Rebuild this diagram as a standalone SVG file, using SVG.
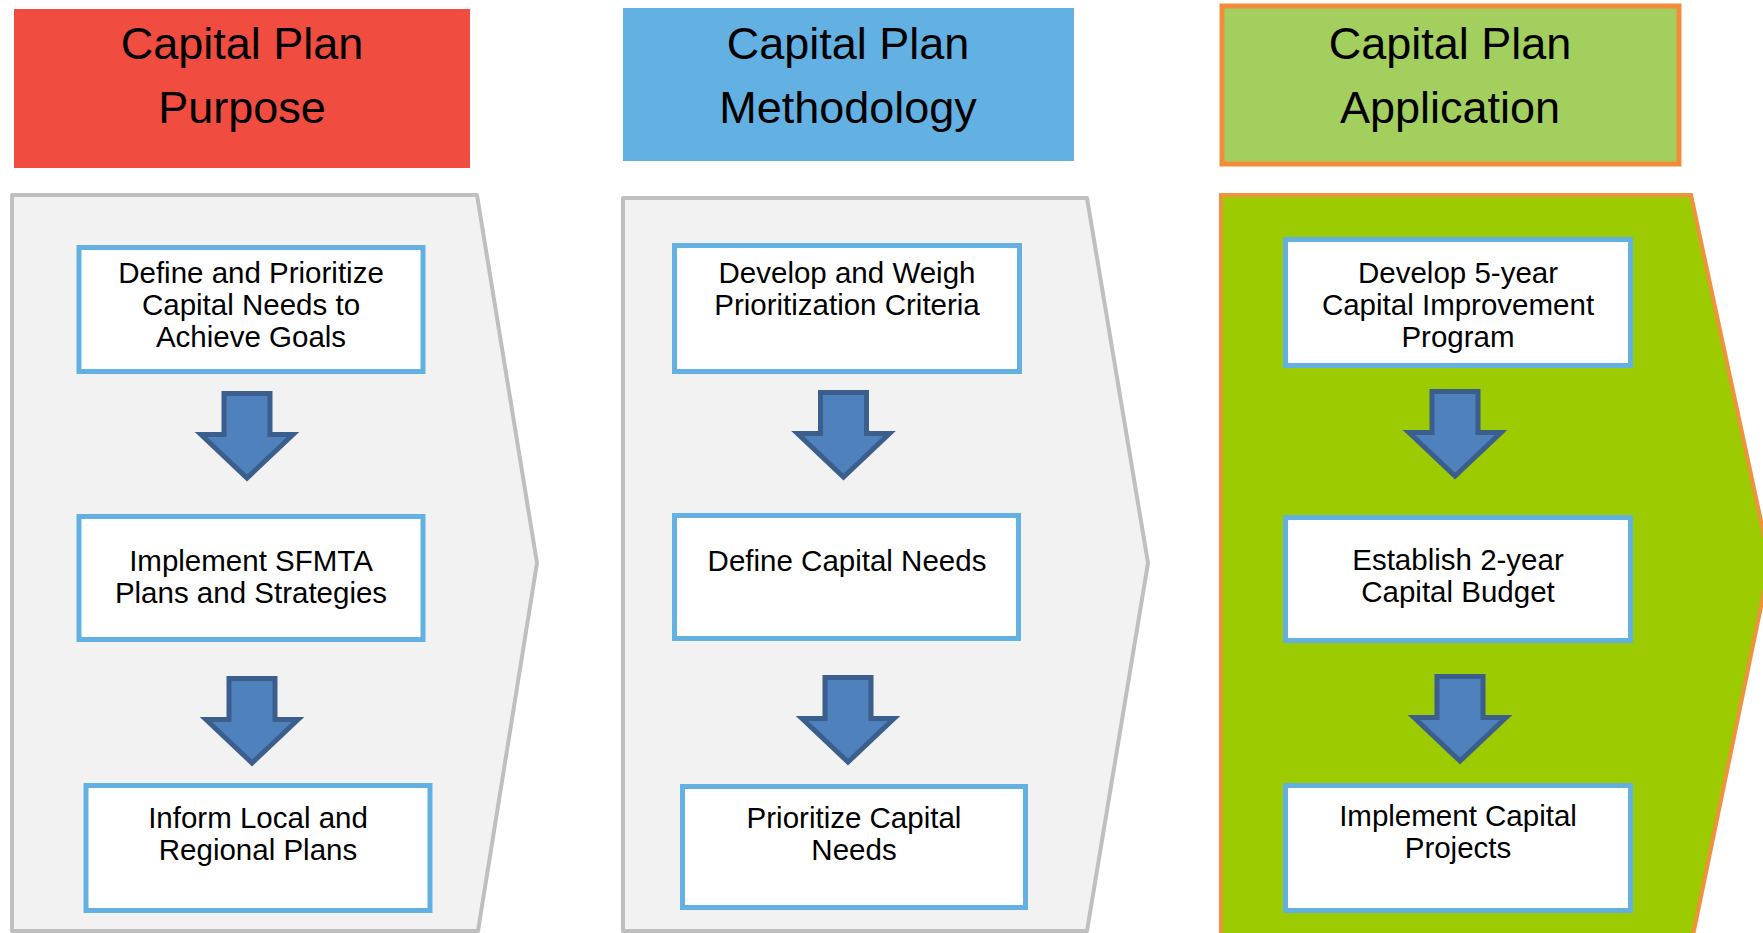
<svg xmlns="http://www.w3.org/2000/svg" xmlns:xlink="http://www.w3.org/1999/xlink" width="1763" height="933" viewBox="0 0 1763 933">
<style>
.hdr{font-family:"Liberation Sans",Arial,sans-serif;font-size:45px;fill:#000;text-anchor:middle}
.txt{font-family:"Liberation Sans",Arial,sans-serif;font-size:29.5px;fill:#000;text-anchor:middle}
.box{fill:#fff;stroke:#63B1E3;stroke-width:5}
.panel{fill:#F2F2F2;stroke:#BFBFBF;stroke-width:4;stroke-linejoin:round}
.arr{fill:#4F81BD;stroke:#3B5E8D;stroke-width:5;stroke-linejoin:miter}
</style>
<defs>
<path id="arrow" d="M-23,2.5 H23 V43.5 H46 L0,87 L-46,43.5 H-23 Z"/>
</defs>
<rect width="1763" height="933" fill="#fff"/>

<g id="panel-purpose-bg"><polygon class="panel" points="12,195 477,195 537,563 478,931 12,931"/></g>
<g id="panel-methodology-bg"><polygon class="panel" points="623,198 1087,198 1148,563 1087,931 623,931"/></g>
<g id="panel-application-bg"><polygon points="1221,195 1691,195 1770,563 1691,945 1221,945" fill="#9BCB00" stroke="#F0913C" stroke-width="4"/></g>

<g id="header-purpose">
<rect x="14" y="9" width="456" height="159" fill="#F04C40"/>
<text class="hdr" x="242" y="59">Capital Plan</text>
<text class="hdr" x="242" y="123">Purpose</text>
</g>
<g id="header-methodology">
<rect x="623" y="8" width="451" height="153" fill="#63B1E3"/>
<text class="hdr" x="848" y="59">Capital Plan</text>
<text class="hdr" x="848" y="123">Methodology</text>
</g>
<g id="header-application">
<rect x="1222" y="6" width="457" height="158" fill="#A3CF5E" stroke="#F38B3A" stroke-width="5"/>
<text class="hdr" x="1450" y="59">Capital Plan</text>
<text class="hdr" x="1450" y="123">Application</text>
</g>

<g id="p1-box1"><rect class="box" x="79" y="247.5" width="344" height="124"/>
<text class="txt" x="251" y="283">Define and Prioritize</text>
<text class="txt" x="251" y="315">Capital Needs to</text>
<text class="txt" x="251" y="347">Achieve Goals</text></g>
<g id="p1-box2"><rect class="box" x="79" y="516.5" width="344" height="123"/>
<text class="txt" x="251" y="571">Implement SFMTA</text>
<text class="txt" x="251" y="603">Plans and Strategies</text></g>
<g id="p1-box3"><rect class="box" x="86" y="785.5" width="344" height="125"/>
<text class="txt" x="258" y="828">Inform Local and</text>
<text class="txt" x="258" y="860">Regional Plans</text></g>

<g id="p2-box1"><rect class="box" x="674.5" y="245.5" width="345" height="126"/>
<text class="txt" x="847" y="283">Develop and Weigh</text>
<text class="txt" x="847" y="315">Prioritization Criteria</text></g>
<g id="p2-box2"><rect class="box" x="674.5" y="515.5" width="344" height="123"/>
<text class="txt" x="847" y="571">Define Capital Needs</text></g>
<g id="p2-box3"><rect class="box" x="682.5" y="786.5" width="343" height="121"/>
<text class="txt" x="854" y="828">Prioritize Capital</text>
<text class="txt" x="854" y="860">Needs</text></g>

<g id="p3-box1"><rect class="box" x="1285.5" y="239.5" width="345" height="126"/>
<text class="txt" x="1458" y="283">Develop 5-year</text>
<text class="txt" x="1458" y="315">Capital Improvement</text>
<text class="txt" x="1458" y="347">Program</text></g>
<g id="p3-box2"><rect class="box" x="1285.5" y="517.5" width="345" height="123"/>
<text class="txt" x="1458" y="570">Establish 2-year</text>
<text class="txt" x="1458" y="602">Capital Budget</text></g>
<g id="p3-box3"><rect class="box" x="1285.5" y="785.5" width="345" height="125"/>
<text class="txt" x="1458" y="826">Implement Capital</text>
<text class="txt" x="1458" y="858">Projects</text></g>

<g id="connectors">
<use xlink:href="#arrow" class="arr" transform="translate(247,391)"/>
<use xlink:href="#arrow" class="arr" transform="translate(252,676)"/>
<use xlink:href="#arrow" class="arr" transform="translate(843.5,390)"/>
<use xlink:href="#arrow" class="arr" transform="translate(848,675)"/>
<use xlink:href="#arrow" class="arr" transform="translate(1455,389)"/>
<use xlink:href="#arrow" class="arr" transform="translate(1460,674)"/>
</g>
</svg>
